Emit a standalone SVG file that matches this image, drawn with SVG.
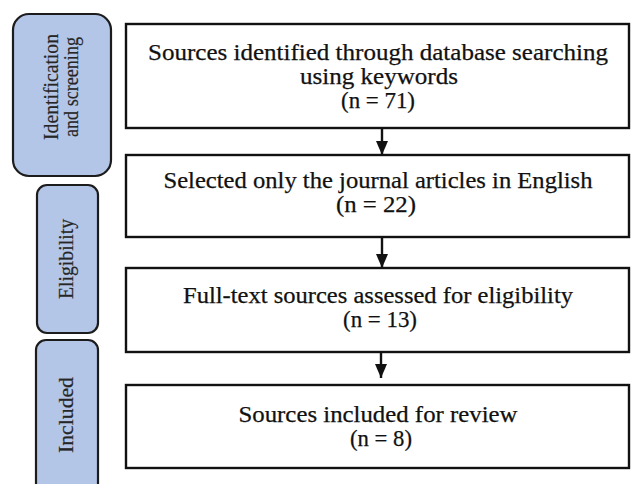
<svg xmlns="http://www.w3.org/2000/svg" width="632" height="484" viewBox="0 0 632 484">
  <style>
    .stage { fill: #b4c6e7; stroke: #1c1c1c; stroke-width: 2.2; }
    .step { fill: #ffffff; stroke: #111111; stroke-width: 2.4; }
    .label { font-family: "Liberation Serif", "Times New Roman", serif; font-size: 23px; fill: #111111; stroke: #111111; stroke-width: 0.25; text-anchor: middle; }
    .stage-label { font-family: "Liberation Serif", "Times New Roman", serif; font-size: 21px; fill: #262626; stroke: #262626; stroke-width: 0.2; text-anchor: middle; }
    .flow { stroke: #111111; stroke-width: 2.4; fill: none; }
  </style>
  <defs>
    <marker id="head" markerUnits="userSpaceOnUse" markerWidth="15" markerHeight="14" refX="14" refY="7" orient="auto">
      <path d="M0,1 L14,7 L0,13 Z" fill="#111111"/>
    </marker>
  </defs>

  <rect width="632" height="484" fill="#ffffff"/>

  <!-- stage bands on the left -->
  <g id="stage-identification">
    <rect class="stage" x="13" y="14" width="98" height="162" rx="16"/>
    <text class="stage-label" transform="translate(58,87) rotate(-90)" textLength="106" lengthAdjust="spacingAndGlyphs">Identification</text>
    <text class="stage-label" transform="translate(78,87) rotate(-90)" textLength="100" lengthAdjust="spacingAndGlyphs">and screening</text>
  </g>
  <g id="stage-eligibility">
    <rect class="stage" x="37" y="185" width="61" height="148" rx="10"/>
    <text class="stage-label" transform="translate(73,259) rotate(-90)" textLength="80" lengthAdjust="spacingAndGlyphs">Eligibility</text>
  </g>
  <g id="stage-included">
    <rect class="stage" x="36" y="340" width="62" height="160" rx="10"/>
    <text class="stage-label" transform="translate(73,415) rotate(-90)" textLength="76" lengthAdjust="spacingAndGlyphs">Included</text>
  </g>

  <!-- process steps -->
  <g id="step-identified">
    <rect class="step" x="126" y="24" width="503" height="104"/>
    <text class="label" x="378" y="60" textLength="460" lengthAdjust="spacingAndGlyphs">Sources identified through database searching</text>
    <text class="label" x="379" y="84" textLength="158" lengthAdjust="spacingAndGlyphs">using keywords</text>
    <text class="label" x="378" y="108" textLength="74" lengthAdjust="spacingAndGlyphs">(n = 71)</text>
  </g>
  <g id="step-selected">
    <rect class="step" x="126" y="155" width="503" height="82"/>
    <text class="label" x="378" y="188" textLength="429" lengthAdjust="spacingAndGlyphs">Selected only the journal articles in English</text>
    <text class="label" x="376" y="212" textLength="80" lengthAdjust="spacingAndGlyphs">(n = 22)</text>
  </g>
  <g id="step-assessed">
    <rect class="step" x="126" y="268" width="503" height="84"/>
    <text class="label" x="378" y="303" textLength="390" lengthAdjust="spacingAndGlyphs">Full-text sources assessed for eligibility</text>
    <text class="label" x="380" y="327" textLength="74" lengthAdjust="spacingAndGlyphs">(n = 13)</text>
  </g>
  <g id="step-included">
    <rect class="step" x="126" y="385" width="503" height="83"/>
    <text class="label" x="378" y="422" textLength="279" lengthAdjust="spacingAndGlyphs">Sources included for review</text>
    <text class="label" x="381" y="446" textLength="62" lengthAdjust="spacingAndGlyphs">(n = 8)</text>
  </g>

  <!-- connectors -->
  <g id="connectors">
    <line class="flow" x1="382" y1="128" x2="382" y2="155" marker-end="url(#head)"/>
    <line class="flow" x1="382" y1="237" x2="382" y2="268" marker-end="url(#head)"/>
    <line class="flow" x1="381" y1="352" x2="381" y2="378" marker-end="url(#head)"/>
  </g>
</svg>
